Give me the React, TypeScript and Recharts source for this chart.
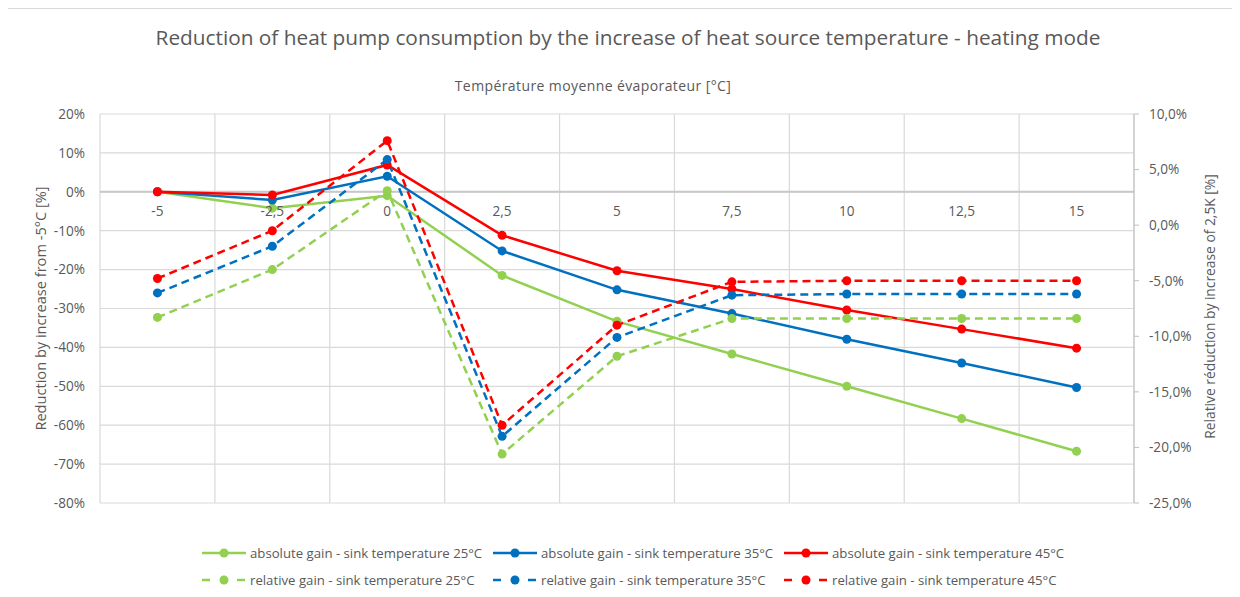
import React from "react";
import {
  LineChart,
  Line,
  XAxis,
  YAxis,
  CartesianGrid,
  ReferenceLine,
} from "recharts";

// évaporateur temperatures (°C)
const categories = ["-5", "-2,5", "0", "2,5", "5", "7,5", "10", "12,5", "15"];

// absolute gain, left axis [%]
const absolute25 = [0, -4.2, -1, -21.5, -33.3, -41.7, -50, -58.3, -66.7];
const absolute35 = [0, -2.1, 4, -15.2, -25.2, -31.3, -37.9, -44, -50.3];
const absolute45 = [0, -0.8, 6.9, -11.2, -20.3, -25, -30.4, -35.3, -40.2];

// relative gain, right axis [%]
const relative25 = [-8.3, -4.0, 3.1, -20.6, -11.8, -8.4, -8.4, -8.4, -8.4];
const relative35 = [-6.1, -1.9, 5.9, -19.0, -10.1, -6.3, -6.2, -6.2, -6.2];
const relative45 = [-4.8, -0.5, 7.6, -18.0, -9.0, -5.1, -5.0, -5.0, -5.0];

const leftTicks = [20, 10, 0, -10, -20, -30, -40, -50, -60, -70, -80];
const rightTicks = [10, 5, 0, -5, -10, -15, -20, -25];

const series = [
  { key: "abs25", name: "absolute gain - sink temperature 25°C", values: absolute25, color: "#92d050", axis: "left", dashed: false },
  { key: "abs35", name: "absolute gain - sink temperature 35°C", values: absolute35, color: "#0070c0", axis: "left", dashed: false },
  { key: "abs45", name: "absolute gain - sink temperature 45°C", values: absolute45, color: "#ff0000", axis: "left", dashed: false },
  { key: "rel25", name: "relative gain - sink temperature 25°C", values: relative25, color: "#92d050", axis: "right", dashed: true },
  { key: "rel35", name: "relative gain - sink temperature 35°C", values: relative35, color: "#0070c0", axis: "right", dashed: true },
  { key: "rel45", name: "relative gain - sink temperature 45°C", values: relative45, color: "#ff0000", axis: "right", dashed: true },
];

const data = categories.map((c, i) => {
  const row: Record<string, string | number> = { temp: c };
  series.forEach((s) => (row[s.key] = s.values[i]));
  return row;
});

const W = 1240;
const H = 597;
const TOP = 114;
const BOTTOM = 503;
const LEFT = 100;
const RIGHT = 1134;
const PLOT_W = RIGHT - LEFT;
const zeroY = TOP + ((BOTTOM - TOP) * 20) / 100;
const FONT = "'Open Sans', 'Noto Sans', sans-serif";
const TEXT = "#595959";
const GRID = "#d9d9d9";
const TICK_SIZE = 13.6;

function XTick(props: any) {
  return (
    <text x={props.x} y={zeroY + 19} textAnchor="middle" dominantBaseline="central" fill={TEXT} fontSize={TICK_SIZE} fontFamily={FONT}>
      {props.payload.value}
    </text>
  );
}

function LegendIcon({ color, dashed }: { color: string; dashed: boolean }) {
  return (
    <svg width={48} height={12} style={{ display: "block" }}>
      {dashed ? (
        <>
          <line x1={2} y1={6} x2={10} y2={6} stroke={color} strokeWidth={2.5} />
          <line x1={37} y1={6} x2={45} y2={6} stroke={color} strokeWidth={2.5} />
        </>
      ) : (
        <line x1={2} y1={6} x2={46} y2={6} stroke={color} strokeWidth={2.5} />
      )}
      <circle cx={24} cy={6} r={4.5} fill={color} />
    </svg>
  );
}

export default function App() {
  return (
    <div style={{ position: "relative", width: W, height: H, margin: -8, overflow: "hidden", background: "#fff", fontFamily: FONT }}>
      <div style={{ position: "absolute", left: 6, top: 8, width: W, height: H, border: `1px solid ${GRID}` }} />
      <div style={{ position: "absolute", left: 628, top: 23, transform: "translateX(-50%)", whiteSpace: "nowrap", fontSize: 20.8, color: TEXT }}>
        Reduction of heat pump consumption by the increase of heat source temperature - heating mode
      </div>
      <div style={{ position: "absolute", left: 593, top: 76, transform: "translateX(-50%)", whiteSpace: "nowrap", fontSize: 14, letterSpacing: 0.4, color: TEXT }}>
        Température moyenne évaporateur [°C]
      </div>
      <div style={{ position: "absolute", left: 0, top: 0 }}>
        <LineChart width={W} height={H} data={data} margin={{ top: TOP, bottom: H - BOTTOM - 30, left: 0, right: 0 }}>
          <CartesianGrid
            yAxisId="left"
            stroke={GRID}
            strokeWidth={1.2}
            verticalCoordinatesGenerator={({ offset }: any) =>
              Array.from({ length: categories.length + 1 }, (_, i) => offset.left + (i * offset.width) / categories.length)
            }
          />
          <XAxis
            dataKey="temp"
            height={30}
            axisLine={false}
            tickLine={false}
            interval={0}
            padding={{ left: PLOT_W / categories.length / 2, right: PLOT_W / categories.length / 2 }}
            tick={<XTick />}
          />
          <YAxis
            yAxisId="left"
            width={LEFT}
            domain={[-80, 20]}
            ticks={leftTicks}
            interval={0}
            axisLine={false}
            tickLine={false}
            tickSize={0}
            tickMargin={15}
            tickFormatter={(v: number) => `${v}%`}
            tick={{ fill: TEXT, fontSize: TICK_SIZE, fontFamily: FONT }}
            label={{
              content: ({ viewBox }: any) => (
                <text
                  transform={`translate(${viewBox.x + 40}, ${viewBox.y + viewBox.height / 2}) rotate(-90)`}
                  textAnchor="middle"
                  dominantBaseline="central"
                  fill={TEXT}
                  fontSize={14.6}
                  fontFamily={FONT}
                >
                  Reduction by increase from -5°C [%]
                </text>
              ),
            }}
          />
          <YAxis
            yAxisId="right"
            orientation="right"
            width={W - RIGHT}
            domain={[-25, 10]}
            ticks={rightTicks}
            interval={0}
            axisLine={{ stroke: "#bfbfbf" }}
            tickLine={{ stroke: "#bfbfbf" }}
            tickSize={5}
            tickMargin={10}
            tickFormatter={(v: number) => `${v.toFixed(1).replace(".", ",")}%`}
            tick={{ fill: TEXT, fontSize: TICK_SIZE, fontFamily: FONT }}
            label={{
              content: ({ viewBox }: any) => (
                <text
                  transform={`translate(${viewBox.x + 75}, ${viewBox.y + viewBox.height / 2 - 2}) rotate(-90)`}
                  textAnchor="middle"
                  dominantBaseline="central"
                  fill={TEXT}
                  fontSize={13.8}
                  fontFamily={FONT}
                >
                  Relative réduction by increase of 2,5K [%]
                </text>
              ),
            }}
          />
          <ReferenceLine yAxisId="left" y={0} stroke="#c8c8c8" strokeWidth={2} />
          {series.map((s) => (
            <Line
              key={s.key}
              yAxisId={s.axis}
              dataKey={s.key}
              name={s.name}
              type="linear"
              stroke={s.color}
              strokeWidth={2.5}
              strokeDasharray={s.dashed ? "8 5" : undefined}
              dot={{ r: 4.5, fill: s.color, stroke: s.color, strokeWidth: 0, strokeDasharray: "" }}
              activeDot={false}
              isAnimationActive={false}
            />
          ))}
        </LineChart>
      </div>
      {[0, 1].map((row) => (
        <div key={row} style={{ position: "absolute", left: 200, top: 544 + row * 27, display: "flex", fontSize: 13.2, color: TEXT }}>
          {series.slice(row * 3, row * 3 + 3).map((s) => (
            <div key={s.key} style={{ width: 291, display: "flex", alignItems: "center", whiteSpace: "nowrap" }}>
              <LegendIcon color={s.color} dashed={s.dashed} />
              <span style={{ marginLeft: 2 }}>{s.name}</span>
            </div>
          ))}
        </div>
      ))}
    </div>
  );
}
